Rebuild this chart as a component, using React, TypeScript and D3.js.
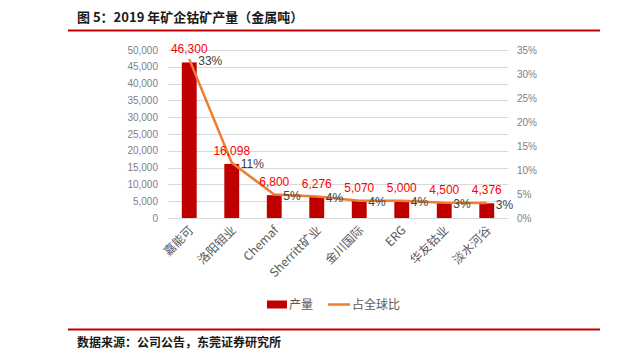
import { useRef, useEffect } from "react";
import * as d3 from "d3";

const companies = ["嘉能可", "洛阳钼业", "Chemaf", "Sherritt矿业", "金川国际", "ERG", "华友钴业", "淡水河谷"];
const output = [46300, 16098, 6800, 6276, 5070, 5000, 4500, 4376];
const share = [0.331, 0.115, 0.049, 0.045, 0.036, 0.036, 0.032, 0.031];
const shareLabels = ["33%", "11%", "5%", "4%", "4%", "4%", "3%", "3%"];
const leftTicks = [0, 5000, 10000, 15000, 20000, 25000, 30000, 35000, 40000, 45000, 50000];
const rightTicks = [0, 0.05, 0.1, 0.15, 0.2, 0.25, 0.3, 0.35];

const W = 631, H = 354;
const FONT = "'Liberation Sans', Arial, 'Noto Sans CJK SC', sans-serif";
const CJK = "'Noto Sans CJK SC', 'Liberation Sans', sans-serif";

export default function App() {
  const svgRef = useRef<SVGSVGElement>(null);

  useEffect(() => {
    if (!svgRef.current) return;
    const svg = d3.select(svgRef.current);
    svg.selectAll("*").remove();

    const plot = { left: 168, right: 508, top: 50, bottom: 218 };

    const x = d3.scaleBand().domain(companies).range([plot.left, plot.right])
      .paddingInner(0.65).paddingOuter(0.325);
    const yL = d3.scaleLinear().domain([0, 50000]).range([plot.bottom, plot.top]);
    const yR = d3.scaleLinear().domain([0, 0.35]).range([plot.bottom, plot.top]);
    const cx = (c: string) => (x(c) ?? 0) + x.bandwidth() / 2;

    svg.append("rect").attr("width", W).attr("height", H).attr("fill", "#fff");

    // title + rules
    svg.append("text").attr("x", 77).attr("y", 22).attr("font-family", CJK).attr("font-size", 13)
      .attr("font-weight", "bold").attr("fill", "#1a1a1a").text("图 5：2019 年矿企钴矿产量（金属吨）");
    svg.append("line").attr("x1", 68).attr("x2", 600).attr("y1", 30.5).attr("y2", 30.5)
      .attr("stroke", "#c00000").attr("stroke-width", 2);
    svg.append("line").attr("x1", 68).attr("x2", 600).attr("y1", 329.5).attr("y2", 329.5)
      .attr("stroke", "#c00000").attr("stroke-width", 2);
    svg.append("text").attr("x", 77).attr("y", 347).attr("font-family", CJK).attr("font-size", 12)
      .attr("font-weight", "bold").attr("fill", "#1a1a1a").text("数据来源：公司公告，东莞证券研究所");

    // grid
    svg.append("g").selectAll("line").data(leftTicks).join("line")
      .attr("x1", plot.left).attr("x2", plot.right)
      .attr("y1", d => Math.round(yL(d)) + 0.5).attr("y2", d => Math.round(yL(d)) + 0.5)
      .attr("stroke", "#d9d9d9").attr("stroke-width", 1);

    // left axis
    svg.append("g").selectAll("text").data(leftTicks).join("text")
      .attr("x", 158).attr("y", d => yL(d) + 3.5).attr("text-anchor", "end")
      .attr("font-family", FONT).attr("font-size", 10).attr("fill", "#7f7f7f")
      .text(d => d3.format(",")(d));

    // right axis
    svg.append("g").selectAll("text").data(rightTicks).join("text")
      .attr("x", 517).attr("y", d => yR(d) + 3.5)
      .attr("font-family", FONT).attr("font-size", 10).attr("fill", "#7f7f7f")
      .text(d => d3.format(".0%")(d));

    // bars
    svg.append("g").selectAll("rect").data(output).join("rect")
      .attr("x", (_, i) => x(companies[i]) ?? 0).attr("width", x.bandwidth())
      .attr("y", d => yL(d)).attr("height", d => plot.bottom - yL(d))
      .attr("fill", "#c00000");

    // line
    const line = d3.line<number>().x((_, i) => cx(companies[i])).y(d => yR(d));
    svg.append("path").datum(share).attr("d", line).attr("fill", "none")
      .attr("stroke", "#ed7d31").attr("stroke-width", 2.5).attr("stroke-linejoin", "round");

    // bar labels
    svg.append("g").selectAll("text").data(output).join("text")
      .attr("x", (_, i) => cx(companies[i])).attr("y", d => yL(d) - 9).attr("text-anchor", "middle")
      .attr("font-family", FONT).attr("font-size", 12).attr("fill", "#ff0000")
      .text(d => d3.format(",")(d));

    // share labels
    svg.append("g").selectAll("text").data(share).join("text")
      .attr("x", (_, i) => cx(companies[i]) + 9).attr("y", d => yR(d) + 5.5)
      .attr("font-family", FONT).attr("font-size", 12).attr("fill", "#404040")
      .text((_, i) => shareLabels[i]);

    // x labels
    svg.append("g").selectAll("text").data(companies).join("text")
      .attr("transform", c => `translate(${cx(c) + 2},${plot.bottom + 10}) rotate(-45)`)
      .attr("text-anchor", "end").attr("dy", "0.35em")
      .attr("font-family", CJK).attr("font-size", 12).attr("fill", "#595959")
      .text(c => c);

    // legend
    const lg = svg.append("g");
    lg.append("rect").attr("x", 267).attr("y", 300.5).attr("width", 20).attr("height", 8).attr("fill", "#c00000");
    lg.append("text").attr("x", 289).attr("y", 309).attr("font-family", CJK).attr("font-size", 12)
      .attr("fill", "#595959").text("产量");
    lg.append("line").attr("x1", 328).attr("x2", 350).attr("y1", 304.5).attr("y2", 304.5)
      .attr("stroke", "#ed7d31").attr("stroke-width", 2.5);
    lg.append("text").attr("x", 352).attr("y", 309).attr("font-family", CJK).attr("font-size", 12)
      .attr("fill", "#595959").text("占全球比");
  }, []);

  return (
    <svg ref={svgRef} width={W} height={H}
      style={{ position: "absolute", left: 0, top: 0, display: "block" }} />
  );
}
